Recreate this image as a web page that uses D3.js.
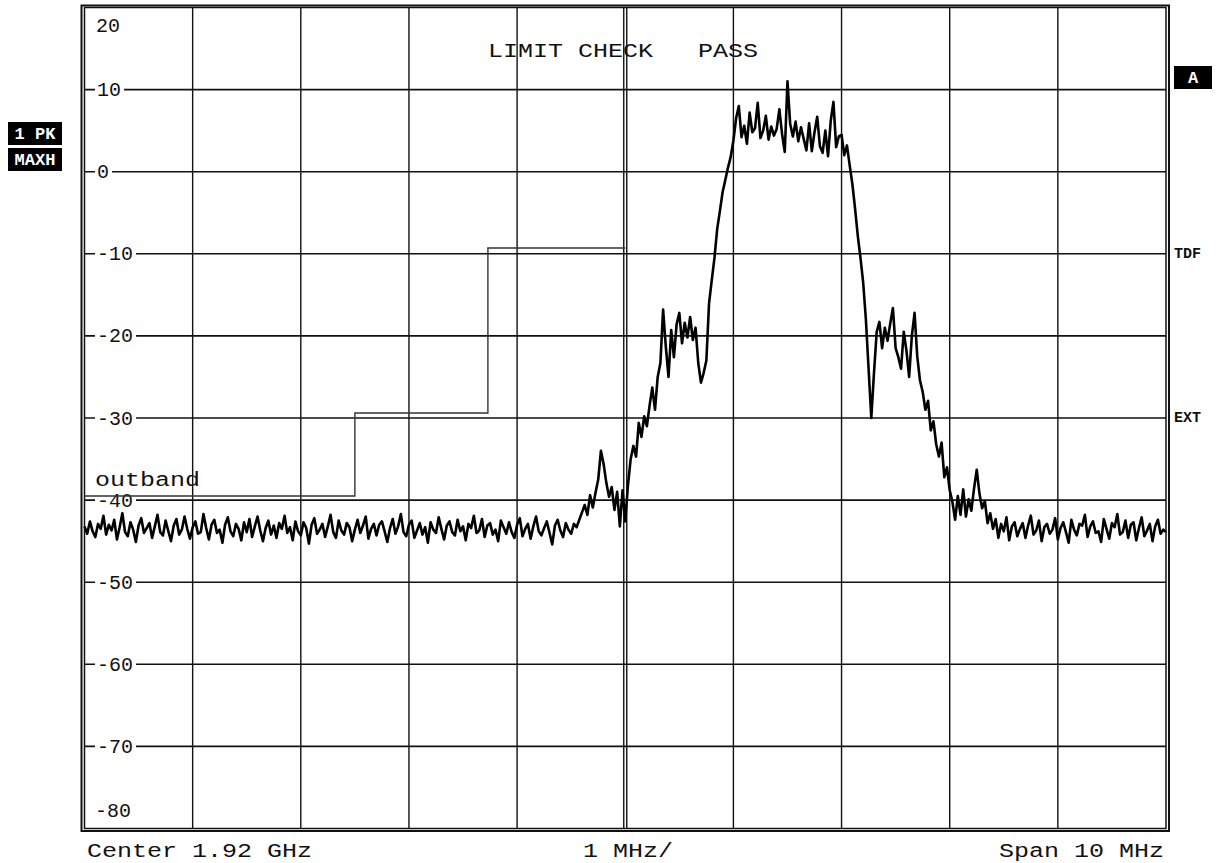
<!DOCTYPE html>
<html>
<head>
<meta charset="utf-8">
<title>Limit check - spectrum</title>
<script src="https://d3js.org/d3.v7.min.js"></script>
<style>
  body { margin: 0; background: #fff; }
  text { font-family: "Liberation Mono", "Courier New", monospace; fill: #111; white-space: pre; }
</style>
</head>
<body>
<div id="chart"></div>
<script>
// sweep: center 1.92 GHz, span 10 MHz, offsets in MHz
var startMHz = -5, stopMHz = 5;
var stepMHz = 0.025;
var dbTop = 20, dbBottom = -80;
var dbTicks = [10, 0, -10, -20, -30, -40, -50, -60, -70];
var freqTicks = [-5, -4, -3, -2, -1, 0, 1, 2, 3, 4, 5];

// limit line "outband"
var limitMHz = [-5, -2.5, -1.27, 0];
var limitDb = [-39.5, -29.4, -9.3, -9.3];

// trace 1 (PK, max hold), one value per sweep point
var traceDb = [
  -43.2,-44.1,-42.6,-43.8,-44.5,-42.9,-43.5,-41.9,-44.2,-43.0,
  -43.7,-42.4,-44.8,-43.3,-41.6,-43.9,-44.4,-42.7,-43.6,-45.1,
  -43.1,-42.2,-44.0,-43.4,-42.8,-44.6,-43.2,-41.8,-43.9,-44.3,
  -42.5,-43.8,-45.0,-43.1,-42.3,-44.2,-43.6,-42.0,-43.5,-44.7,
  -43.3,-42.6,-44.1,-43.9,-41.7,-43.4,-44.8,-43.0,-42.4,-44.0,
  -43.6,-45.2,-43.0,-42.1,-43.8,-44.4,-42.9,-43.5,-44.9,-42.7,
  -43.9,-42.3,-44.5,-43.2,-42.0,-43.7,-45.0,-43.4,-42.5,-44.2,
  -43.1,-44.6,-42.8,-43.5,-41.9,-44.0,-43.3,-44.9,-42.6,-43.8,
  -44.3,-42.7,-43.4,-45.3,-43.0,-42.2,-44.1,-43.6,-42.9,-44.5,
  -43.2,-41.8,-43.9,-44.6,-42.5,-43.7,-44.2,-42.8,-43.3,-45.0,
  -43.6,-42.4,-44.0,-43.1,-42.0,-44.7,-43.5,-42.9,-44.3,-43.0,
  -42.6,-43.8,-45.1,-43.4,-42.3,-44.1,-43.2,-41.7,-43.9,-44.4,
  -43.0,-42.5,-44.6,-43.7,-42.8,-44.2,-43.3,-45.2,-42.7,-43.6,
  -44.0,-42.1,-43.5,-44.8,-43.1,-42.6,-43.9,-44.3,-42.4,-43.8,
  -43.2,-44.9,-42.9,-43.4,-41.9,-44.0,-43.7,-42.3,-44.5,-43.1,
  -42.8,-44.2,-43.6,-45.0,-42.5,-43.3,-44.1,-42.7,-43.9,-44.6,
  -43.0,-42.2,-44.4,-43.5,-42.9,-44.7,-43.2,-42.0,-43.8,-44.3,
  -43.4,-42.6,-44.0,-45.4,-43.1,-42.4,-43.7,-44.5,-42.8,-43.6,
  -44.1,-42.9,-43.3,-42.4,-41.5,-40.6,-41.8,-39.4,-40.9,-39.1,
  -37.5,-34.0,-35.6,-37.9,-39.6,-38.4,-41.2,-39.0,-43.2,-38.8,
  -42.6,-38.2,-35.0,-33.4,-34.7,-30.6,-32.3,-29.8,-31.0,-28.5,
  -26.3,-29.0,-25.0,-23.3,-16.8,-21.3,-25.0,-19.3,-22.6,-18.6,
  -17.2,-20.9,-18.4,-20.2,-17.7,-20.5,-19.0,-23.3,-25.7,-24.5,
  -23.0,-16.0,-13.2,-10.5,-7.0,-4.8,-2.5,-1.0,0.5,1.8,
  3.8,6.5,8.0,4.2,5.6,3.4,7.2,4.8,5.3,8.4,
  4.1,5.0,6.8,3.9,5.5,4.4,5.2,7.6,4.6,2.4,
  11.0,5.8,4.3,6.1,3.7,5.4,4.0,2.6,5.9,2.5,
  4.8,6.7,3.1,2.3,5.0,1.9,6.2,8.5,3.0,4.3,
  4.5,2.0,3.2,0.8,-1.5,-4.5,-7.8,-10.5,-13.5,-18.0,
  -24.0,-30.0,-24.5,-19.5,-18.3,-21.5,-19.0,-20.6,-18.5,-16.6,
  -21.5,-22.6,-24.0,-19.5,-21.8,-25.0,-20.0,-17.2,-22.5,-25.4,
  -26.8,-29.0,-27.9,-31.5,-30.4,-33.2,-34.7,-33.0,-37.2,-36.0,
  -38.8,-40.2,-42.4,-39.5,-41.8,-38.7,-42.0,-39.9,-41.3,-38.6,
  -36.3,-39.2,-41.0,-40.1,-42.8,-41.6,-43.5,-42.3,-44.6,-42.9,
  -43.8,-42.1,-44.9,-43.2,-42.7,-44.4,-43.5,-42.8,-44.6,-43.1,
  -41.9,-44.2,-43.7,-42.5,-45.0,-43.3,-42.9,-44.1,-43.6,-42.2,
  -44.8,-43.4,-42.7,-43.9,-45.2,-42.4,-43.6,-44.3,-42.9,-43.1,
  -41.8,-44.5,-43.2,-42.6,-44.0,-43.8,-45.1,-42.3,-43.5,-44.7,
  -42.8,-43.3,-41.7,-44.2,-43.9,-42.5,-44.6,-43.0,-42.7,-44.9,
  -43.4,-42.1,-44.4,-43.7,-42.9,-45.0,-43.2,-42.4,-44.1,-43.6,
  -43.9
];

var W = 1224, H = 863;
var x0 = 84.5, x1 = 1166, y0 = 7.5, y1 = 828.5;

var svg = d3.select("#chart").append("svg")
  .attr("width", W).attr("height", H);

var x = d3.scaleLinear().domain([startMHz, stopMHz]).range([x0, x1]);
var y = d3.scaleLinear().domain([dbBottom, dbTop]).range([y1, y0]);

// grid
svg.append("g").selectAll("line.h")
  .data(dbTicks).enter().append("line")
  .attr("x1", x0).attr("x2", x1)
  .attr("y1", function (d) { return y(d); })
  .attr("y2", function (d) { return y(d); })
  .style("stroke", "#111").style("stroke-width", 1.6);

svg.append("g").selectAll("line.v")
  .data(freqTicks.slice(1, -1)).enter().append("line")
  .attr("x1", function (d) { return d == 0 ? x(d) - 1.5 : x(d); })
  .attr("x2", function (d) { return d == 0 ? x(d) - 1.5 : x(d); })
  .attr("y1", y0).attr("y2", y1)
  .style("stroke", "#111").style("stroke-width", 1.4);
// center line is doubled on the display
svg.append("line")
  .attr("x1", x(0) + 1.5).attr("x2", x(0) + 1.5)
  .attr("y1", y0).attr("y2", y1)
  .style("stroke", "#111").style("stroke-width", 1.4);

// frame (double border)
svg.append("rect")
  .attr("x", x0).attr("y", y0).attr("width", x1 - x0).attr("height", y1 - y0)
  .style("fill", "none").style("stroke", "#111").style("stroke-width", 1.5);
svg.append("rect")
  .attr("x", x0 - 3).attr("y", y0 - 2).attr("width", x1 - x0 + 6).attr("height", y1 - y0 + 4.5)
  .style("fill", "none").style("stroke", "#111").style("stroke-width", 2);

// y labels sitting on the grid lines
var lab = svg.append("g").selectAll("g")
  .data(dbTicks).enter().append("g");
lab.append("text")
  .attr("x", 97)
  .attr("y", function (d) { return y(d) + 6.5; })
  .style("font-size", "20px")
  .text(function (d) { return d; });
lab.each(function () {
  var g = d3.select(this);
  var b = g.select("text").node().getBBox();
  g.insert("rect", "text")
    .attr("x", b.x - 2).attr("y", b.y + 2)
    .attr("width", b.width + 5).attr("height", b.height - 4)
    .style("fill", "#fff");
});
svg.append("text").attr("x", 96).attr("y", 32).style("font-size", "20px").text(dbTop);
svg.append("text").attr("x", 95).attr("y", 817).style("font-size", "20px").text(dbBottom);

// limit line
var limitPts = limitMHz.map(function (f, i) { return [f, limitDb[i]]; });
svg.append("path")
  .datum(limitPts)
  .attr("d", d3.line().curve(d3.curveStepAfter)
    .x(function (d) { return x(d[0]); })
    .y(function (d) { return y(d[1]); }))
  .style("fill", "none").style("stroke", "#333").style("stroke-width", 1.4);

// trace
svg.append("path")
  .datum(traceDb)
  .attr("d", d3.line()
    .x(function (d, i) { return x(startMHz + i * stepMHz); })
    .y(function (d) { return y(d); }))
  .style("fill", "none").style("stroke", "#000").style("stroke-width", 2.6)
  .style("stroke-linejoin", "round");

// wide display texts
function wideText(tx, ty, str, anchor) {
  svg.append("text")
    .attr("transform", "translate(" + tx + "," + ty + ") scale(1.25,1)")
    .attr("text-anchor", anchor || "start")
    .style("font-size", "20px")
    .text(str);
}
wideText(488, 57, "LIMIT CHECK   PASS");
wideText(95, 486, "outband");
wideText(87, 857, "Center 1.92 GHz");
wideText(583, 857, "1 MHz/");
wideText(1164, 857, "Span 10 MHz", "end");

// side annotations
function tag(bx, by, bw, bh, str) {
  svg.append("rect").attr("x", bx).attr("y", by).attr("width", bw).attr("height", bh)
    .style("fill", "#000");
  svg.append("text")
    .attr("x", bx + bw / 2).attr("y", by + bh / 2 + 5.5)
    .attr("text-anchor", "middle")
    .style("font-size", "17px").style("font-weight", "bold").style("fill", "#fff")
    .text(str);
}
tag(8, 122, 54, 23, "1 PK");
tag(8, 148, 54, 23, "MAXH");
tag(1174, 66, 38, 23, "A");

svg.append("text").attr("x", 1174).attr("y", 258)
  .style("font-size", "15px").style("font-weight", "bold").text("TDF");
svg.append("text").attr("x", 1174).attr("y", 422)
  .style("font-size", "15px").style("font-weight", "bold").text("EXT");
</script>
</body>
</html>
